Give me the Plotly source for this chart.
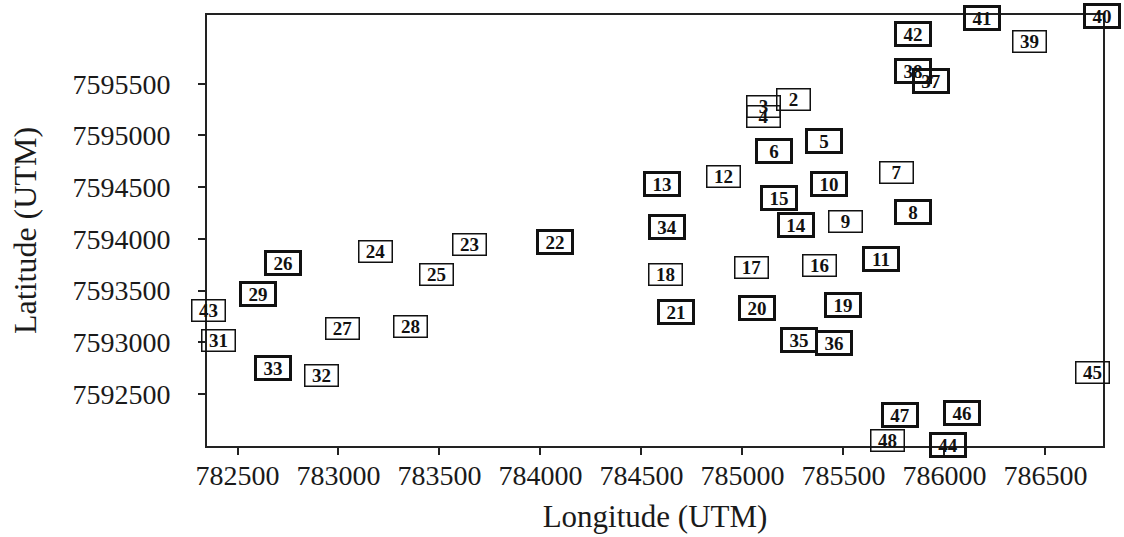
import plotly.graph_objects as go

# Site labels, UTM coordinates and border group (A = heavy outline, B = light outline)
labels = ["2", "3", "4", "5", "6", "7", "8", "9", "10", "11", "12", "13", "14", "15", "16",
          "17", "18", "19", "20", "21", "22", "23", "24", "25", "26", "27", "28", "29", "31",
          "32", "33", "34", "35", "36", "37", "38", "39", "40", "41", "42", "43", "44", "45",
          "46", "47", "48"]
longitude = [785253, 785105, 785105, 785406, 785156, 785763, 785844, 785509, 785427, 785687,
             784907, 784600, 785266, 785179, 785382, 785047, 784619, 785498, 785070, 784669,
             784074, 783647, 783185, 783484, 782727, 783022, 783358, 782600, 782408, 782918,
             782675, 784625, 785279, 785455, 785933, 785844, 786422, 786780, 786186, 785844,
             782356, 786017, 786735, 786088, 785780, 785718]
latitude = [7595345, 7595282, 7595182, 7594950, 7594850, 7594645, 7594263, 7594168, 7594533,
            7593808, 7594599, 7594533, 7594137, 7594397, 7593743, 7593720, 7593654, 7593358,
            7593329, 7593293, 7593968, 7593943, 7593876, 7593651, 7593764, 7593131, 7593156,
            7593470, 7593022, 7592681, 7592751, 7594117, 7593019, 7592995, 7595525, 7595626,
            7595907, 7596158, 7596136, 7595977, 7593312, 7592004, 7592705, 7592318, 7592300,
            7592050]
group = ["B", "B", "B", "A", "A", "B", "A", "B", "A", "A", "B", "A", "A", "A", "B",
         "B", "B", "A", "A", "A", "A", "B", "B", "B", "A", "B", "B", "A", "B",
         "B", "A", "A", "A", "A", "A", "A", "B", "A", "A", "A", "B", "A", "B",
         "A", "A", "B"]

x_ticks = [782500, 783000, 783500, 784000, 784500, 785000, 785500, 786000, 786500]
y_ticks = [7592500, 7593000, 7593500, 7594000, 7594500, 7595000, 7595500]

border_width = {"A": 3, "B": 1.5}
serif = "Liberation Serif, Times New Roman, serif"

fig = go.Figure()
# invisible anchor trace so the axes exist
fig.add_trace(go.Scatter(x=longitude, y=latitude, mode="markers",
                         marker=dict(size=1, opacity=0), hoverinfo="skip",
                         showlegend=False))

annotations = []
for lab, lon, lat, g in zip(labels, longitude, latitude, group):
    annotations.append(dict(
        x=lon, y=lat, xref="x", yref="y", text="<b>" + lab + "</b>",
        showarrow=False, width=30, height=18, borderpad=1,
        bordercolor="#111111", borderwidth=border_width[g],
        bgcolor="rgba(0,0,0,0)",
        font=dict(family=serif, size=19, color="#111111"),
    ))

fig.update_layout(
    width=1124, height=537,
    margin=dict(l=207, r=21, t=15, b=91),
    paper_bgcolor="white", plot_bgcolor="white",
    annotations=annotations,
    font=dict(family=serif, color="#1a1a1a"),
    xaxis=dict(
        range=[782349, 786785], tickvals=x_ticks,
        ticktext=[str(v) for v in x_ticks],
        automargin=False,
        showgrid=False, zeroline=False,
        showline=True, linecolor="#222222", linewidth=2, mirror=True,
        ticks="outside", ticklen=7, tickwidth=2, tickcolor="#222222",
        tickfont=dict(family=serif, size=28, color="#1a1a1a"),
        ticklabelstandoff=-4,
        title=dict(text="Longitude (UTM)", font=dict(family=serif, size=31, color="#1a1a1a"),
                   standoff=16),
    ),
    yaxis=dict(
        range=[7591997, 7596165], tickvals=y_ticks,
        ticktext=[str(v) for v in y_ticks],
        automargin=False,
        showgrid=False, zeroline=False,
        showline=True, linecolor="#222222", linewidth=2, mirror=True,
        ticks="outside", ticklen=7, tickwidth=2, tickcolor="#222222",
        tickfont=dict(family=serif, size=28, color="#1a1a1a"),
        ticklabelstandoff=22,
        title=dict(text="Latitude (UTM)", font=dict(family=serif, size=32, color="#1a1a1a"),
                   standoff=26),
    ),
)

fig.write_html("out.html", config={"displayModeBar": False},
               post_script="document.body.style.margin='0px';")
